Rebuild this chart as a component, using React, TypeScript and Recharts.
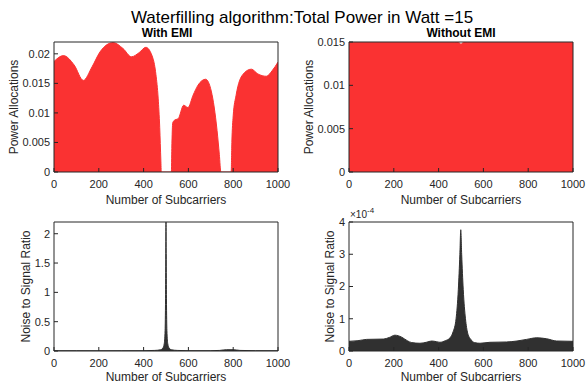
import { AreaChart, Area, XAxis, YAxis } from "recharts";

const FONT = '"Liberation Sans", Arial, Helvetica, sans-serif';
const INK = "#262626";

// subcarrier ticks shared by all four panels
const xTicks = [0, 200, 400, 600, 800, 1000];

// With EMI: power allocation
const tlSub = [0, 42, 90, 131, 170, 205, 264, 308, 346, 380, 410, 442, 455, 465, 472, 477, 479, 524, 526, 530, 539, 554, 579, 598, 621, 643, 677, 702, 715, 728, 738, 745, 791, 794, 800, 813, 843, 881, 910, 948, 975, 1000];
const tlPow = [0.0187, 0.0197, 0.0181, 0.0155, 0.0178, 0.0203, 0.0219, 0.0209, 0.0195, 0.0202, 0.0211, 0.0192, 0.0165, 0.0125, 0.0075, 0.002, 0, 0, 0.004, 0.0083, 0.0088, 0.009, 0.0113, 0.0109, 0.013, 0.0147, 0.0157, 0.0137, 0.011, 0.007, 0.003, 0, 0, 0.005, 0.0095, 0.013, 0.0165, 0.0174, 0.0166, 0.0162, 0.0172, 0.0186];

// Without EMI: power allocation
const trSub = [0, 470, 490, 500, 510, 530, 1000];
const trPow = [0.01497, 0.01497, 0.01493, 0.01475, 0.01493, 0.01497, 0.01497];

// With EMI: noise to signal ratio
const blSub = [0, 100, 200, 300, 400, 450, 475, 486, 492, 496, 498, 500, 502, 504, 508, 514, 525, 550, 600, 700, 740, 770, 800, 830, 900, 1000];
const blNsr = [0.004, 0.004, 0.003, 0.004, 0.005, 0.01, 0.02, 0.05, 0.12, 0.35, 0.9, 2.2, 0.9, 0.35, 0.12, 0.05, 0.02, 0.01, 0.005, 0.005, 0.01, 0.022, 0.022, 0.01, 0.005, 0.004];

// Without EMI: noise to signal ratio
const brSub = [0, 40, 79, 153, 180, 205, 235, 260, 280, 317, 345, 369, 390, 406, 430, 450, 465, 478, 488, 495, 499, 503, 510, 520, 530, 545, 560, 585, 629, 704, 750, 793, 838, 882, 927, 1000];
const brNsr = [0.30e-4, 0.32e-4, 0.36e-4, 0.37e-4, 0.42e-4, 0.49e-4, 0.43e-4, 0.32e-4, 0.26e-4, 0.24e-4, 0.27e-4, 0.31e-4, 0.29e-4, 0.27e-4, 0.32e-4, 0.4e-4, 0.6e-4, 1.0e-4, 1.9e-4, 3.0e-4, 3.76e-4, 3.0e-4, 1.9e-4, 1.0e-4, 0.55e-4, 0.35e-4, 0.26e-4, 0.24e-4, 0.27e-4, 0.28e-4, 0.31e-4, 0.36e-4, 0.41e-4, 0.38e-4, 0.31e-4, 0.30e-4];

const rows = (xs: number[], ys: number[]) => xs.map((x, i) => ({ x, y: ys[i] }));

interface PanelProps {
  left: number;
  top: number;
  ph: number;
  data: { x: number; y: number }[];
  yMax: number;
  yTicks: number[];
  fill: string;
  stroke: string;
  fmt?: (v: number) => string;
}

function Panel({ left, top, ph, data, yMax, yTicks, fill, stroke, fmt }: PanelProps) {
  const tickStyle = { fill: INK, fontSize: 11, fontFamily: FONT };
  return (
    <div style={{ position: "absolute", left: left - 54, top: top - 30 }}>
      <AreaChart width={224 + 54 + 24} height={ph + 75} data={data} margin={{ top: 29, right: 23, bottom: 0, left: 0 }}>
        <XAxis xAxisId="b" type="number" dataKey="x" domain={[0, 1000]} ticks={xTicks} interval={0}
          height={45} tickSize={-4} tickMargin={12} tick={tickStyle} stroke={INK} allowDataOverflow />
        <XAxis xAxisId="t" orientation="top" type="number" dataKey="x" domain={[0, 1000]} ticks={xTicks}
          interval={0} height={1} tickSize={-4} tick={false} stroke={INK} allowDataOverflow />
        <YAxis yAxisId="l" type="number" domain={[0, yMax]} ticks={yTicks} interval={0} width={54}
          tickSize={-4} tickMargin={8} tick={tickStyle} stroke={INK} tickFormatter={fmt} allowDataOverflow />
        <YAxis yAxisId="r" orientation="right" type="number" domain={[0, yMax]} ticks={yTicks} interval={0}
          width={1} tickSize={-4} tick={false} stroke={INK} allowDataOverflow />
        <Area xAxisId="b" yAxisId="l" type="monotone" dataKey="y" fill={fill} fillOpacity={1}
          stroke={stroke} strokeWidth={1} isAnimationActive={false} dot={false} activeDot={false} />
        {/* invisible copy so the mirrored box axes have a series */}
        <Area xAxisId="t" yAxisId="r" type="monotone" dataKey="y" fill="none" fillOpacity={0}
          stroke="none" isAnimationActive={false} dot={false} activeDot={false} />
      </AreaChart>
    </div>
  );
}

export default function App() {
  const red = "#fa3232";
  const gray = "#303030";
  return (
    <div style={{ position: "absolute", left: 0, top: 0, width: 586, height: 385, background: "#fff", overflow: "hidden" }}>
      <Panel left={54} top={42} ph={130} data={rows(tlSub, tlPow)} yMax={0.022}
        yTicks={[0, 0.005, 0.01, 0.015, 0.02]} fill={red} stroke={red} />
      <Panel left={349} top={42} ph={130} data={rows(trSub, trPow)} yMax={0.015}
        yTicks={[0, 0.005, 0.01, 0.015]} fill={red} stroke={red} />
      <Panel left={54} top={222} ph={129} data={rows(blSub, blNsr)} yMax={2.2}
        yTicks={[0, 0.5, 1, 1.5, 2]} fill={gray} stroke={gray} />
      <Panel left={349} top={222} ph={129} data={rows(brSub, brNsr)} yMax={4e-4}
        yTicks={[0, 1e-4, 2e-4, 3e-4, 4e-4]} fill={gray} stroke={gray}
        fmt={(v) => String(Math.round(v * 1e4))} />
      <svg width={586} height={385} style={{ position: "absolute", left: 0, top: 0, pointerEvents: "none" }}
        fontFamily={FONT}>
        <text x={302} y={22.5} fontSize={17} textAnchor="middle" fill="#000">
          Waterfilling algorithm:Total Power in Watt =15
        </text>
        <text x={167} y={37} fontSize={12} fontWeight="bold" textAnchor="middle" fill="#000">With EMI</text>
        <text x={461} y={37} fontSize={12} fontWeight="bold" textAnchor="middle" fill="#000">Without EMI</text>
        <text x={166} y={203.5} fontSize={12} textAnchor="middle" fill={INK}>Number of Subcarriers</text>
        <text x={461} y={203.5} fontSize={12} textAnchor="middle" fill={INK}>Number of Subcarriers</text>
        <text x={166} y={381} fontSize={12} textAnchor="middle" fill={INK}>Number of Subcarriers</text>
        <text x={461} y={381} fontSize={12} textAnchor="middle" fill={INK}>Number of Subcarriers</text>
        <text transform="translate(18,107) rotate(-90)" fontSize={12} textAnchor="middle" fill={INK}>Power Allocations</text>
        <text transform="translate(313,107) rotate(-90)" fontSize={12} textAnchor="middle" fill={INK}>Power Allocations</text>
        <text transform="translate(29.5,286.5) rotate(-90)" fontSize={12} textAnchor="middle" fill={INK}>Noise to Signal Ratio</text>
        <text transform="translate(334,286.5) rotate(-90)" fontSize={12} textAnchor="middle" fill={INK}>Noise to Signal Ratio</text>
        <text x={350} y={218} fontSize={10} fill={INK}>
          ×10<tspan dy={-5} fontSize={8}>-4</tspan>
        </text>
      </svg>
    </div>
  );
}
